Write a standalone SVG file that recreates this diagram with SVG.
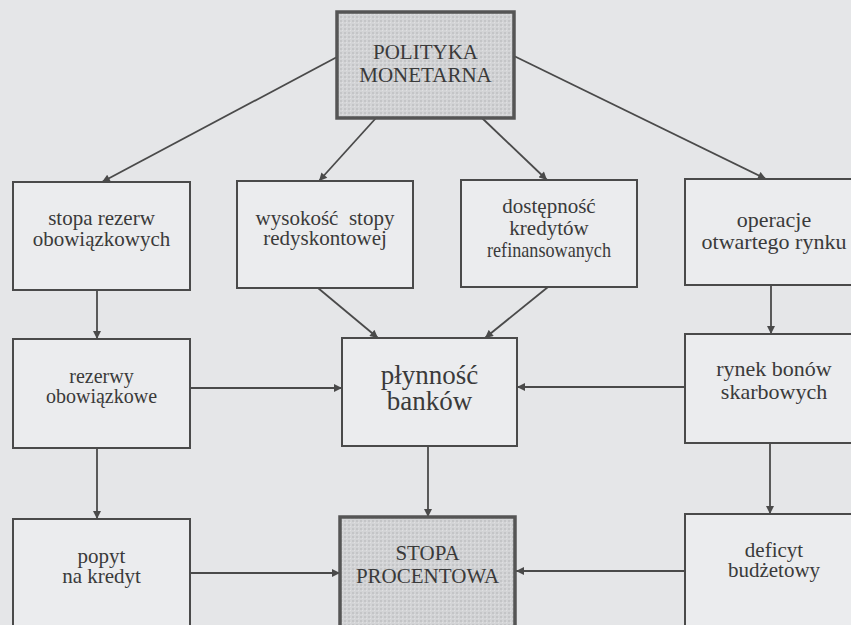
<svg xmlns="http://www.w3.org/2000/svg" width="851" height="625" viewBox="0 0 851 625">
<style>
.bg{fill:#e5e6e8}
.box{fill:#ebecee;stroke:#4a4a4a;stroke-width:2}
.main{fill:url(#dots);stroke:#555;stroke-width:3.5}
.t{font-size:21px;fill:#3a3a3a;text-anchor:middle}
.big{font-size:27px}
.c{stroke:#4a4a4a;stroke-width:1.8;fill:none;marker-end:url(#ah)}
</style>
<defs>
<pattern id="dots" width="4" height="4" patternUnits="userSpaceOnUse">
<rect width="4" height="4" fill="#d3d4d6"/>
<rect width="2" height="2" fill="#c4c5c7"/>
<rect x="2" y="2" width="1" height="1" fill="#e0e0e2"/>
</pattern>
<marker id="ah" viewBox="0 0 10 10" refX="10" refY="5" markerWidth="9" markerHeight="8" markerUnits="userSpaceOnUse" orient="auto">
<path d="M0,0 L10,5 L0,10 z" fill="#4a4a4a"/>
</marker>
</defs>
<rect class="bg" x="0" y="0" width="851" height="625"/>
<g id="connectors">
<line class="c" x1="337" y1="57" x2="102" y2="182"/>
<line class="c" x1="376" y1="118" x2="319" y2="181"/>
<line class="c" x1="482" y1="118" x2="547" y2="180"/>
<line class="c" x1="514" y1="56" x2="766" y2="179"/>
<line class="c" x1="97" y1="290" x2="97" y2="339"/>
<line class="c" x1="318" y1="288" x2="378" y2="338"/>
<line class="c" x1="548" y1="287" x2="485" y2="338"/>
<line class="c" x1="771" y1="285" x2="771" y2="334"/>
<line class="c" x1="190" y1="388" x2="342" y2="388"/>
<line class="c" x1="685" y1="387" x2="517" y2="387"/>
<line class="c" x1="97" y1="448" x2="97" y2="519"/>
<line class="c" x1="428" y1="446" x2="428" y2="517"/>
<line class="c" x1="770" y1="443" x2="770" y2="514"/>
<line class="c" x1="190" y1="573" x2="340" y2="573"/>
<line class="c" x1="685" y1="571" x2="516" y2="571"/>
</g>
<g font-family="'Liberation Serif', Tinos, 'DejaVu Serif', serif">
<g id="polityka">
<rect class="main" x="337" y="12" width="177" height="106"/>
<text class="t" x="425.5" y="59">POLITYKA</text>
<text class="t" x="425.5" y="82">MONETARNA</text>
</g>
<g id="stopa-rezerw">
<rect class="box" x="13" y="182" width="177" height="108"/>
<text class="t" x="101.5" y="225">stopa rezerw</text>
<text class="t" x="101.5" y="246">obowiązkowych</text>
</g>
<g id="redyskonto">
<rect class="box" x="237" y="181" width="176" height="107"/>
<text class="t" x="325" y="225" xml:space="preserve">wysokość  stopy</text>
<text class="t" x="325" y="245">redyskontowej</text>
</g>
<g id="kredyty">
<rect class="box" x="461" y="180" width="176" height="107"/>
<text class="t" x="549" y="213">dostępność</text>
<text class="t" x="549" y="235">kredytów</text>
<text class="t" x="549" y="257" textLength="124" lengthAdjust="spacingAndGlyphs">refinansowanych</text>
</g>
<g id="operacje">
<rect class="box" x="685" y="179" width="177" height="106"/>
<text class="t" x="774" y="227" style="font-size:22px">operacje</text>
<text class="t" x="774" y="249" style="font-size:22px">otwartego rynku</text>
</g>
<g id="rezerwy">
<rect class="box" x="13" y="339" width="177" height="109"/>
<text class="t" x="101.5" y="383" style="font-size:20px">rezerwy</text>
<text class="t" x="101.5" y="403" style="font-size:20px">obowiązkowe</text>
</g>
<g id="plynnosc">
<rect class="box" x="342" y="338" width="175" height="108"/>
<text class="t big" x="429.5" y="384">płynność</text>
<text class="t big" x="429.5" y="410">banków</text>
</g>
<g id="rynek-bonow">
<rect class="box" x="685" y="334" width="177" height="109"/>
<text class="t" x="774" y="376" style="font-size:22px">rynek bonów</text>
<text class="t" x="774" y="399" style="font-size:22px">skarbowych</text>
</g>
<g id="popyt">
<rect class="box" x="13" y="519" width="177" height="130"/>
<text class="t" x="101.5" y="563">popyt</text>
<text class="t" x="101.5" y="583">na kredyt</text>
</g>
<g id="stopa-procentowa">
<rect class="main" x="340" y="517" width="175" height="130"/>
<text class="t" x="427.5" y="560">STOPA</text>
<text class="t" x="427.5" y="583">PROCENTOWA</text>
</g>
<g id="deficyt">
<rect class="box" x="685" y="514" width="177" height="130"/>
<text class="t" x="774" y="557">deficyt</text>
<text class="t" x="774" y="577">budżetowy</text>
</g>
</g>
</svg>
